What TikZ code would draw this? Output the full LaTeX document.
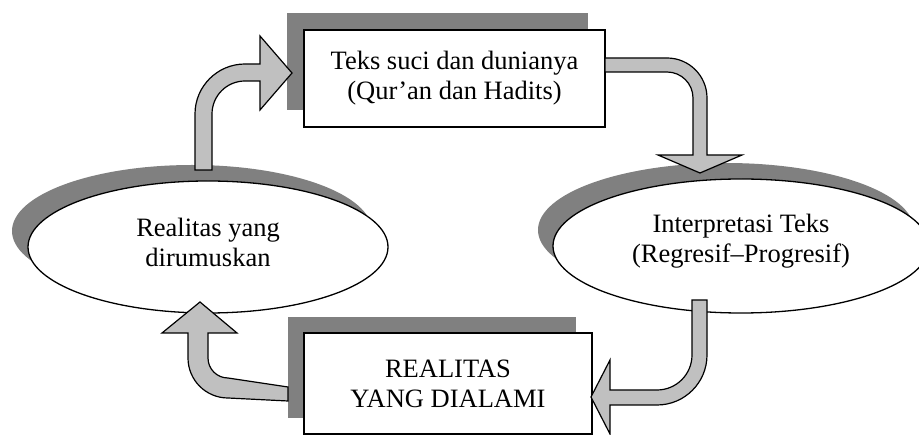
\documentclass[tikz,border=0pt]{standalone}
\usepackage{fontspec}
\setmainfont{Liberation Serif}
\usetikzlibrary{shapes.geometric}
\definecolor{shadowgray}{HTML}{808080}
\definecolor{arrowfill}{HTML}{C0C0C0}
\begin{document}
\begin{tikzpicture}[x=1pt,y=-1pt,
  lbl/.style={font=\fontsize{26.5}{30}\selectfont, align=center, text=black},
  boxnode/.style={lbl, draw=black, line width=1.5pt, fill=white, rectangle, inner sep=0pt},
  ellnode/.style={draw=black, line width=1.3pt, fill=white, ellipse, inner sep=0pt},
  blockarrow/.style={draw=black, line width=1.2pt, fill=arrowfill, line join=miter},
  shadefill/.style={fill=shadowgray, draw=none}]
\useasboundingbox (0,0) rectangle (919,435);
% shadows
\fill[shadefill] (287,13) rectangle (588,110);
\fill[shadefill] (288,317) rectangle (576,418);
\fill[shadefill] (192,231) ellipse [x radius=180, y radius=66];
\fill[shadefill] (726,230) ellipse [x radius=188, y radius=67];
% nodes
\node[boxnode, minimum width=301pt, minimum height=97pt] (top) at (454.5,78.5)
  {Teks suci dan dunianya\\(Qur’an dan Hadits)};
\node[boxnode, minimum width=288pt, minimum height=101pt] (bottom) at (448,383.5)
  {REALITAS\\YANG DIALAMI};
\node[ellnode, minimum width=360pt, minimum height=132pt] (left) at (208,247) {};
\node[lbl] (lefttxt) at ([yshift=5pt]left.center) {Realitas yang\\dirumuskan};
\node[ellnode, minimum width=376pt, minimum height=134pt] (right) at (741,246) {};
\node[lbl] (righttxt) at ([yshift=5pt]right.center) {Interpretasi Teks\\(Regresif–Progresif)};
% block arrows
% left ellipse -> top box
\draw[blockarrow] (195,170) -- (195,114) arc[start angle=180, end angle=270, radius=50]
  -- (260,64) -- (260,36) -- (292,73) -- (260,110) -- (260,81) -- (245,81)
  arc[start angle=270, end angle=180, radius=33] -- (212,170) -- cycle;
% top box -> right ellipse
\draw[blockarrow] (605,58) -- (667,58) arc[start angle=270, end angle=360, radius=40]
  -- (707,155) -- (742,155) -- (700,173) -- (658,155) -- (693,155) -- (693,98)
  arc[start angle=0, end angle=-90, radius=26] -- (605,72) -- cycle;
% right ellipse -> bottom box
\draw[blockarrow] (692,300) -- (707,300) -- (707,355) arc[start angle=0, end angle=90, radius=50]
  -- (610,405) -- (610,434) -- (591,397) -- (610,360) -- (610,390) -- (657,390)
  arc[start angle=90, end angle=0, radius=35] -- cycle;
% bottom box -> left ellipse
\draw[blockarrow] (288,401) -- (228,398) arc[start angle=90, end angle=180, radius=40]
  -- (188,333) -- (162,333) -- (200,302) -- (237,333) -- (208,333) -- (208,358)
  arc[start angle=180, end angle=90, radius=20] -- (288,387) -- cycle;
\end{tikzpicture}
\end{document}
